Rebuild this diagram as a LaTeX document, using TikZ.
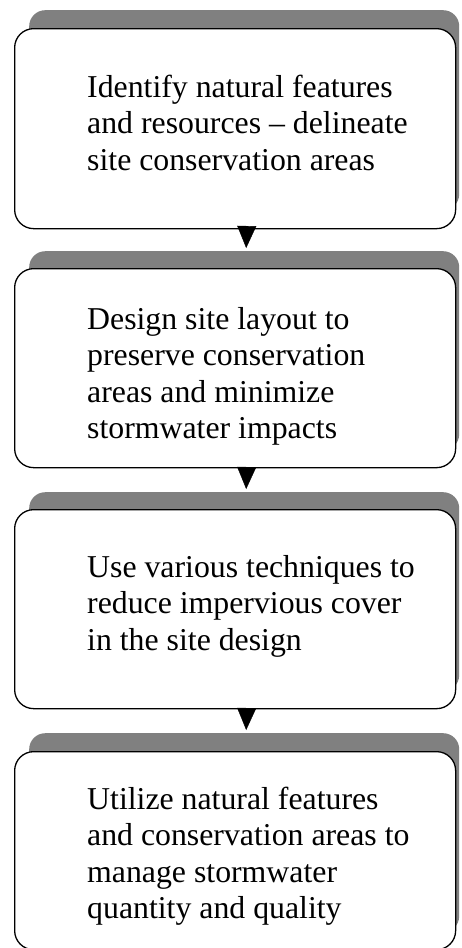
\documentclass[tikz,border=0pt]{standalone}
\usepackage{fontspec}
\setmainfont{Liberation Serif}
\usetikzlibrary{arrows.meta}
\tikzset{
  box/.style={draw=black, line width=1.3pt, fill=white, rounded corners=19pt,
    minimum width=441pt, inner sep=0pt, anchor=north west},
  shadowbox/.style={fill=shade, rounded corners=16pt, minimum width=430pt,
    inner sep=0pt, anchor=north west},
  label/.style={anchor=base west, inner sep=0pt,
    font=\fontsize{31.8}{36.5}\selectfont},
  flow/.style={line width=0.4pt, -{Triangle[width=19pt,length=22pt]}},
}
\definecolor{shade}{HTML}{808080}
\newcommand{\lines}[1]{\begin{tabular}[t]{@{}l@{}}#1\end{tabular}}
\begin{document}
\begin{tikzpicture}[x=1pt,y=-1pt]
\useasboundingbox (0,0) rectangle (461,948);
% shadows
\node[shadowbox, minimum height=200pt] (s1) at (29,10) {};
\node[shadowbox, minimum height=199pt] (s2) at (29,251) {};
\node[shadowbox, minimum height=199pt] (s3) at (29,492) {};
\node[shadowbox, minimum height=199pt] (s4) at (29,733) {};
% boxes
\node[box, minimum height=200pt] (b1) at (14,28) {};
\node[box, minimum height=199pt] (b2) at (14,268) {};
\node[box, minimum height=199pt] (b3) at (14,509) {};
\node[box, minimum height=198pt] (b4) at (14,751) {};
% texts
\node[label] (t1) at (87,97) {\lines{Identify natural features\\and resources -- delineate\\site conservation areas}};
\node[label] (t2) at (87,329) {\lines{Design site layout to\\preserve conservation\\areas and minimize\\stormwater impacts}};
\node[label] (t3) at (87,577) {\lines{Use various techniques to\\reduce impervious cover\\in the site design}};
\node[label] (t4) at (87,809) {\lines{Utilize natural features\\and conservation areas to\\manage stormwater\\quantity and quality}};
% arrows
\draw[flow] ([xshift=11.5pt]b1.south) -- ([xshift=2pt,yshift=3pt]s2.north);
\draw[flow] ([xshift=11.5pt]b2.south) -- ([xshift=2pt,yshift=3pt]s3.north);
\draw[flow] ([xshift=11.5pt]b3.south) -- ([xshift=2pt,yshift=3pt]s4.north);
\end{tikzpicture}
\end{document}
